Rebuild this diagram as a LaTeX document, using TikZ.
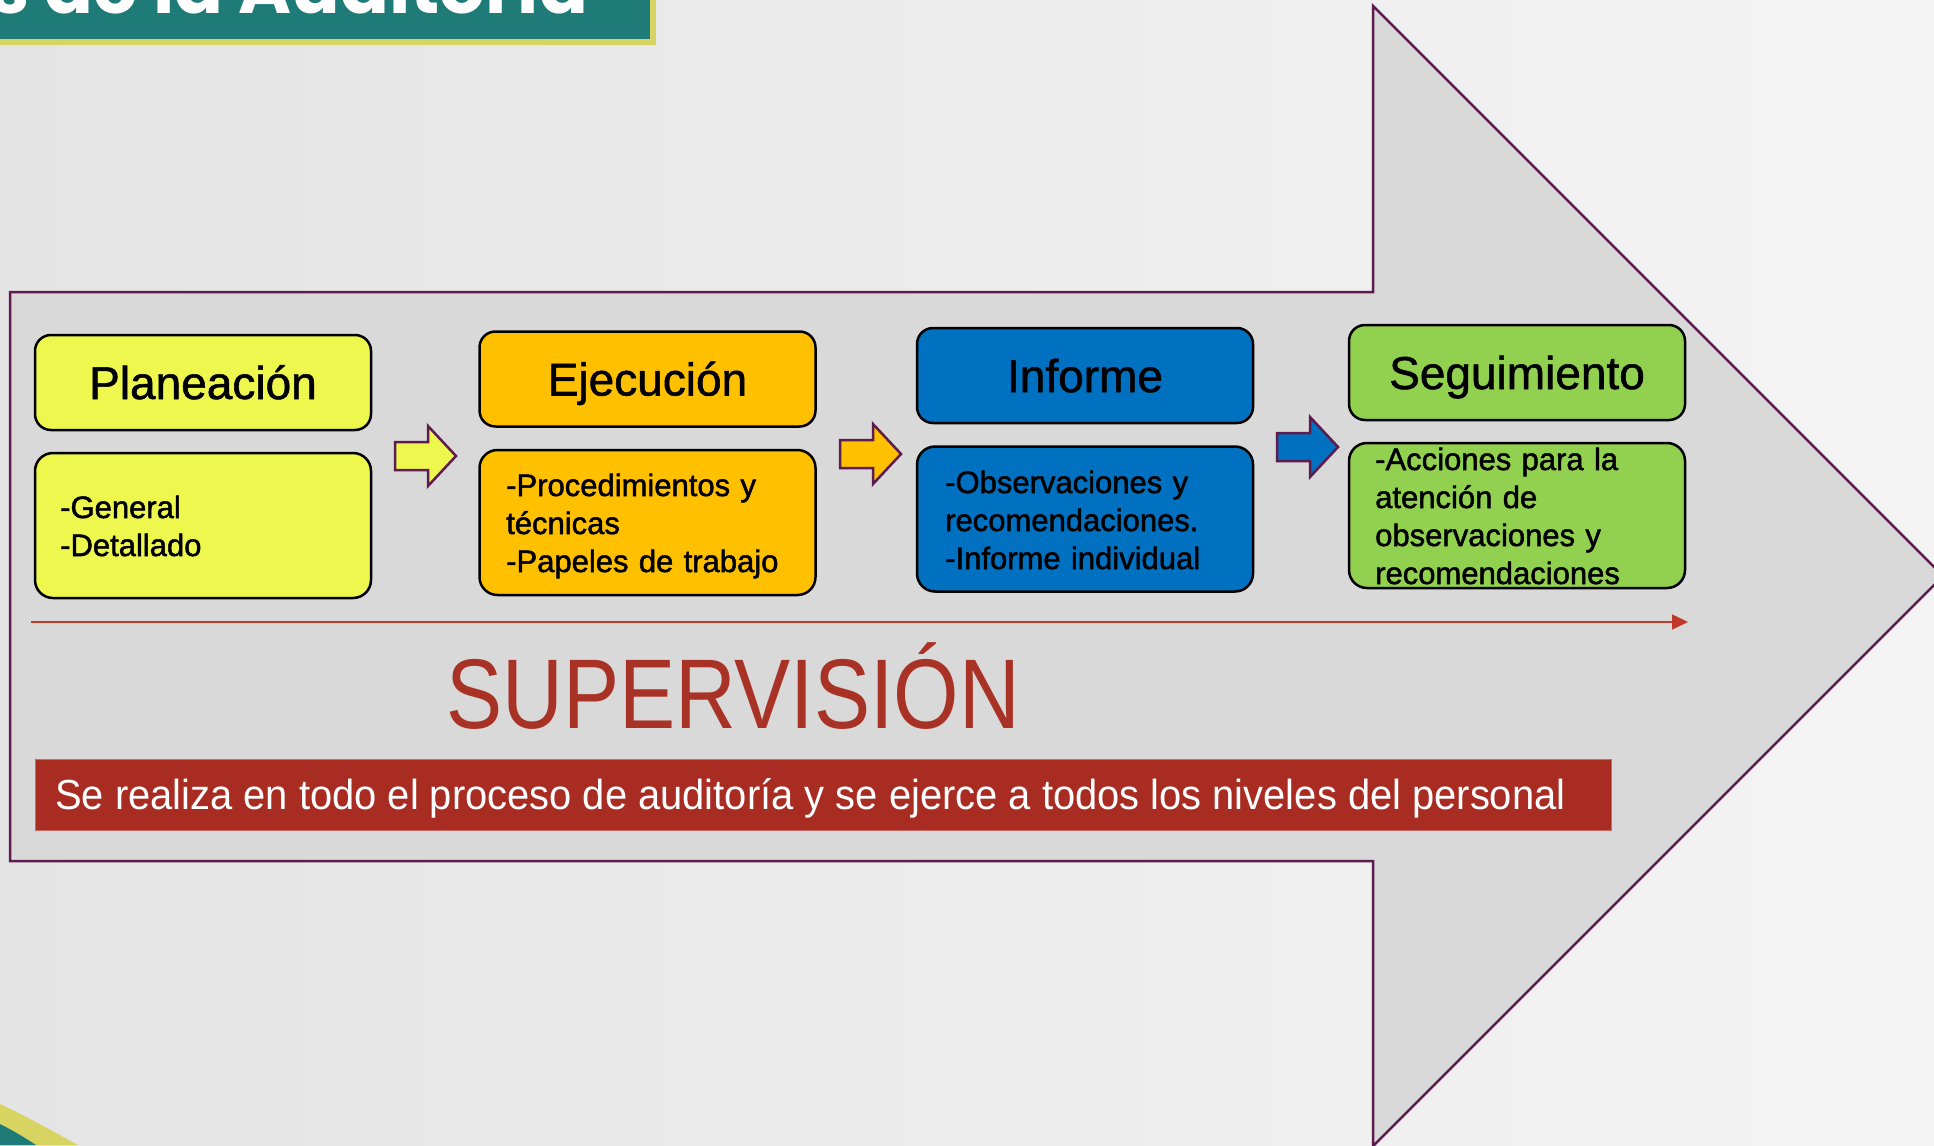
\documentclass[tikz,border=0pt]{standalone}
\usepackage{fontspec}
\setmainfont{Liberation Sans}
\newfontfamily\boxfont[FakeBold=1.6]{Liberation Sans}
\newfontfamily\hdrfont[FakeBold=1.2]{Liberation Sans}
\newfontfamily\condfont[FakeStretch=0.85]{Liberation Sans}
\newfontfamily\bannerfont[FakeStretch=0.95]{Liberation Sans}
\newfontfamily\titlefont{Poppins}
\usetikzlibrary{arrows.meta}
\definecolor{bgL}{HTML}{E4E4E4}
\definecolor{bgR}{HTML}{F4F4F4}
\definecolor{tealT}{HTML}{1F7B78}
\definecolor{yelT}{HTML}{D8D462}
\definecolor{purp}{HTML}{5E1B4F}
\definecolor{arrowfill}{HTML}{D9D9D9}
\definecolor{yel}{HTML}{EDF74E}
\definecolor{org}{HTML}{FFC000}
\definecolor{blu}{HTML}{0070C0}
\definecolor{grn}{HTML}{92D050}
\definecolor{redL}{HTML}{C0392B}
\definecolor{supRed}{HTML}{A93226}
\definecolor{bannerRed}{HTML}{A92C22}
\definecolor{bannerEdge}{HTML}{C86A62}
\tikzset{
  bigarrow/.style={draw=purp, fill=arrowfill, line width=2.5pt, line join=miter},
  hdrbox/.style={draw=black, line width=2.5pt, rounded corners=16pt, minimum width=336pt, minimum height=95pt, inner sep=0pt, text height=33pt, text depth=0pt, font=\hdrfont\fontsize{46}{50}\selectfont},
  bodybox/.style={draw=black, line width=2.5pt, rounded corners=18pt, minimum width=336pt, minimum height=145pt, inner sep=0pt},
  bodytext/.style={anchor=base west, inner sep=0pt, text width=320pt, align=left, font=\boxfont\fontsize{31}{38}\selectfont},
  smallarr/.style={draw=purp, line width=2.5pt, line join=miter},
  supline/.style={draw=redL, line width=1.5pt, -{Triangle[length=16pt,width=15pt]}},
}
\begin{document}
\begin{tikzpicture}[x=1pt,y=-1pt]
\useasboundingbox (0,0) rectangle (1934,1145);
% background
\fill[left color=bgL, right color=bgR] (0,0) rectangle (1934,1145);
% bottom-left decoration
\fill[yelT] (0,1104) .. controls (28,1117) and (52,1131) .. (78,1145) -- (0,1145) -- cycle;
\fill[tealT] (0,1124) .. controls (12,1130) and (24,1137) .. (36,1145) -- (0,1145) -- cycle;
% title bar
\fill[yelT] (-5,-5) rectangle (656,45);
\fill[tealT] (-5,-5) rectangle (650,39);
\node[anchor=base west, inner sep=0pt, text=white, font=\titlefont\bfseries\fontsize{72}{72}\selectfont] (title) at (-11,14) {s de la Auditoría};
% big arrow
\draw[bigarrow] (10,292) -- (1373,292) -- (1373,6) -- (1943,576) -- (1373,1146) -- (1373,861) -- (10,861) -- cycle;
% column 1
\node[hdrbox, fill=yel] (h1) at (203,382.5) {Planeación};
\node[bodybox, fill=yel] (b1) at (203,525.5) {};
\node[bodytext] (t1) at (60,518) {-General\\-Detallado};
% column 2
\node[hdrbox, fill=org] (h2) at (647.5,379) {Ejecución};
\node[bodybox, fill=org] (b2) at (647.5,522.5) {};
\node[bodytext] (t2) at (506,496) {-Procedimientos y\\técnicas\\-Papeles de trabajo};
% column 3
\node[hdrbox, fill=blu] (h3) at (1085,375.5) {Informe};
\node[bodybox, fill=blu] (b3) at (1085,519) {};
\node[bodytext] (t3) at (945,493) {-Observaciones y\\recomendaciones.\\-Informe individual};
% column 4
\node[hdrbox, fill=grn] (h4) at (1517,372.5) {Seguimiento};
\node[bodybox, fill=grn] (b4) at (1517,515.5) {};
\node[bodytext] (t4) at (1375,470) {-Acciones para la\\atención de\\observaciones y\\recomendaciones};
% small arrows
\coordinate (a1) at (395,456);
\coordinate (a2) at (840,454);
\coordinate (a3) at (1277,447);
\foreach \c/\f in {a1/yel,a2/org,a3/blu}{
  \draw[smallarr, fill=\f] (\c) ++(0,-14) -- ++(33,0) -- ++(0,-16) -- ++(28,30) -- ++(-28,30) -- ++(0,-16) -- ++(-33,0) -- cycle;
}
% supervision line
\coordinate (s0) at (31,622);
\coordinate (s1) at (1688,622);
\draw[supline] (s0) -- (s1);
\node[anchor=base west, inner sep=0pt, text=supRed, font=\condfont\fontsize{99}{99}\selectfont] (sup) at (446,728) {SUPERVISIÓN};
% banner
\node[draw=bannerEdge, line width=1pt, fill=bannerRed, minimum width=1576pt, minimum height=71pt, inner sep=0pt, anchor=north west] (banner) at (35,759) {};
\node[anchor=base west, inner sep=0pt, text=white, font=\bannerfont\fontsize{42}{42}\selectfont] (btext) at (55,809) {Se realiza en todo el proceso de auditoría y se ejerce a todos los niveles del personal};
\end{tikzpicture}
\end{document}
